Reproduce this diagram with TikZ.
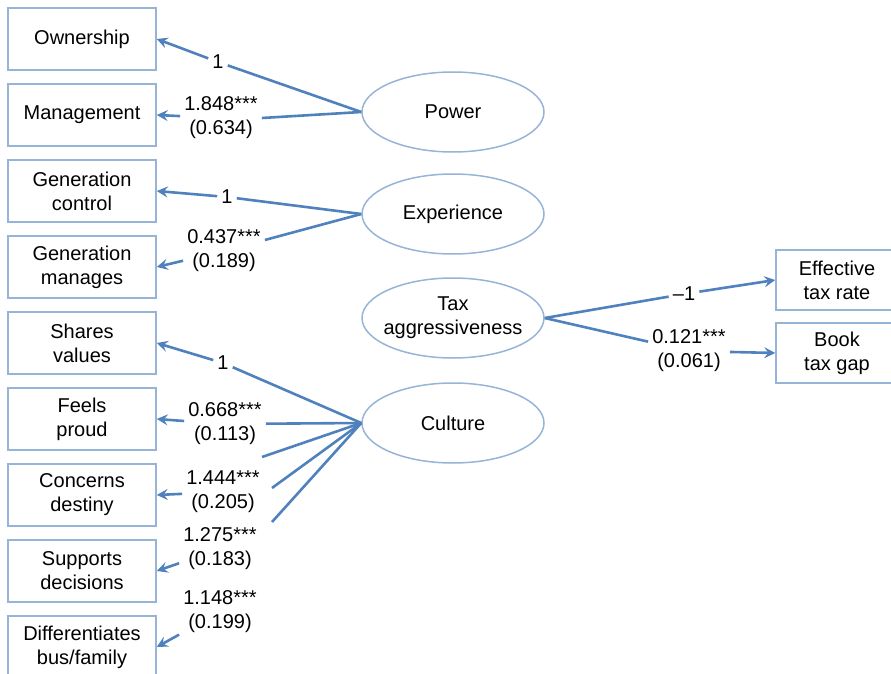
\documentclass[tikz,border=0pt]{standalone}
\usepackage{fontspec}
\setmainfont{Liberation Sans}
\usetikzlibrary{positioning, arrows.meta, shapes.geometric}

\definecolor{linkblue}{RGB}{79,129,189}
\definecolor{edgeblue}{RGB}{150,180,215}

\begin{document}
\begin{tikzpicture}[
    x=1pt, y=-1pt,
    font=\fontsize{20}{24}\selectfont,
    item/.style={draw=edgeblue, line width=1.5pt, rectangle,
        minimum width=148pt, minimum height=62pt, align=center, inner sep=2pt},
    latent/.style={draw=edgeblue, line width=1.5pt, ellipse,
        minimum width=182pt, minimum height=80pt, align=center, inner sep=0pt},
    coef/.style={align=center, inner sep=4pt},
    link/.style={draw=linkblue, line width=2.6pt},
    load/.style={link, -{Stealth[length=11pt, width=11pt, inset=4pt]}},
]
    \useasboundingbox (0,0) rectangle (891,674);

    % indicators
    \node[item] (own) at (82,39) {Ownership};
    \node[item, below=12.5pt of own] (man) {Management};
    \node[item, below=12.5pt of man] (gc) {Generation\\control};
    \node[item, below=12.5pt of gc] (gm) {Generation\\manages};
    \node[item, below=12.5pt of gm] (sv) {Shares\\values};
    \node[item, below=12.5pt of sv] (fp) {Feels\\proud};
    \node[item, below=12.5pt of fp] (cd) {Concerns\\destiny};
    \node[item, below=12.5pt of cd] (sd) {Supports\\decisions};
    \node[item, below=12.5pt of sd] (df) {Differentiates\\bus/family};

    % latent factors
    \node[latent] (power) at (453,112) {Power};
    \node[latent] (exper) at (453,214) {Experience};
    \node[latent, inner xsep=-6pt] (tax) at (453,318) {Tax\\aggressiveness};
    \node[latent] (culture) at (453,423) {Culture};

    \node[item, minimum width=122pt, minimum height=60pt] (etr) at (837,280) {Effective\\tax rate};
    \node[item, minimum width=122pt, minimum height=60pt, below=11.5pt of etr] (btg) {Book\\tax gap};

    % loadings
    \node[coef] (cOwn) at (218,62) {1};
    \node[coef] (cMan) at (221,118) {1.848***\\(0.634)};
    \node[coef] (cGc) at (227,197) {1};
    \node[coef] (cGm) at (224,251) {0.437***\\(0.189)};
    \node[coef] (cSv) at (223,363) {1};
    \node[coef] (cFp) at (225,424) {0.668***\\(0.113)};
    \node[coef] (cCd) at (223,492) {1.444***\\(0.205)};
    \node[coef] (cSd) at (220,549) {1.275***\\(0.183)};
    \node[coef] (cDf) at (220,612) {1.148***\\(0.199)};
    \node[coef] (cEtr) at (684,294) {\textendash1};
    \node[coef] (cBtg) at (689,351) {0.121***\\(0.061)};

    \coordinate (cdEnd) at (262,457);
    \coordinate (sdEnd) at (272,488);
    \coordinate (dfEnd) at (272,522);

    \draw[link] (power.west) -- (cMan.east);
    \draw[link] (power.west) -- (cOwn);
    \draw[load] (cOwn) -- (own.east);
    \draw[load] (cMan) -- (man.east);

    \draw[link] (exper.west) -- (cGc);
    \draw[load] (cGc) -- (gc.east);
    \draw[link] (exper.west) -- (cGm);
    \draw[load] (cGm) -- (gm.east);

    \draw[link] (culture.west) -- (cSv);
    \draw[load] (cSv) -- (sv.east);
    \draw[link] (culture.west) -- (cFp);
    \draw[load] (cFp) -- (fp.east);
    \draw[link] (culture.west) -- (cdEnd);
    \draw[load] (cCd) -- (cd.east);
    \draw[link] (culture.west) -- (sdEnd);
    \draw[load] (cSd) -- (sd.east);
    \draw[link] (culture.west) -- (dfEnd);
    \draw[load] (cDf) -- (df.east);

    \draw[link] (tax.east) -- (cEtr);
    \draw[load] (cEtr) -- (etr.west);
    \draw[link] (tax.east) -- (cBtg);
    \draw[load] (cBtg) -- (btg.west);
\end{tikzpicture}
\end{document}
